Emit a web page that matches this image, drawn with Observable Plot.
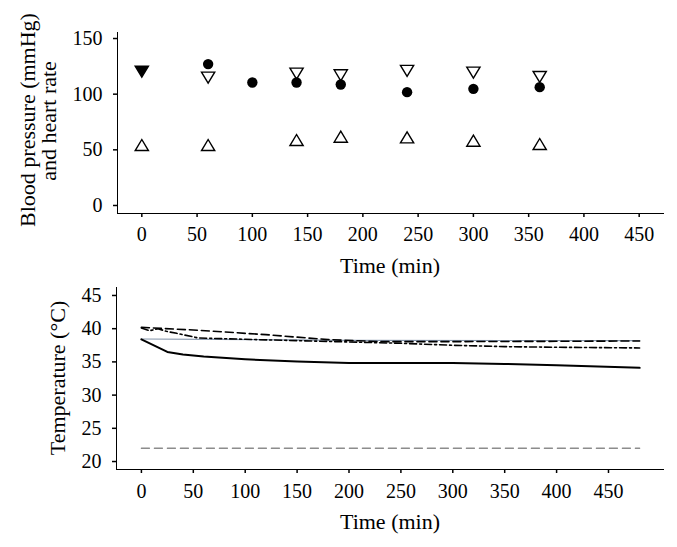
<!DOCTYPE html>
<html>
<head>
<meta charset="utf-8">
<script src="https://cdn.jsdelivr.net/npm/d3@7"></script>
<script src="https://cdn.jsdelivr.net/npm/@observablehq/plot@0.6"></script>
<style>
  body { margin: 0; background: #fff; }
  #wrap { position: relative; width: 677px; height: 547px; background: #fff; }
  #wrap svg { position: absolute; left: 0; }
  #wrap svg [aria-label$="tick"], #wrap svg [aria-label$="rule"] { stroke-width: 1.5; }
</style>
</head>
<body>
<div id="wrap"></div>
<script>
// ---------- Top panel data: blood pressure and heart rate ----------
const bpTimes = [0, 60, 100, 140, 180, 240, 300, 360];
const heartRate = [null, 127, 110.5, 110.5, 108.7, 101.8, 104.8, 106.3];          // filled circles
const systolicTimes = [0, 60, 140, 180, 240, 300, 360];
const systolic = [120.7, 115.3, 118.9, 117.4, 121.3, 119.8, 115.9];              // open down-triangles
const systolicFilled = [true, false, false, false, false, false, false];         // first marker drawn filled
const diastolicTimes = [0, 60, 140, 180, 240, 300, 360];
const diastolic = [53.9, 53.9, 58.4, 61.4, 60.8, 57.8, 54.8];                     // open up-triangles
const topXTicks = [0, 50, 100, 150, 200, 250, 300, 350, 400, 450];
const topYTicks = [0, 50, 100, 150];

// ---------- Bottom panel data: temperatures ----------
const solidTimes = [0, 25, 40, 60, 100, 150, 200, 250, 300, 350, 400, 480];
const solidTemp = [38.4, 36.5, 36.1, 35.8, 35.4, 35.05, 34.85, 34.85, 34.85, 34.7, 34.5, 34.1];
const greyTimes = [0, 200, 480];
const greyTemp = [38.45, 38.25, 38.2];
const dashedTimes = [0, 50, 120, 180, 230, 300, 400, 480];
const dashedTemp = [40.2, 39.8, 39.1, 38.35, 38.05, 38.05, 38.1, 38.15];
const dashDotTimes = [0, 8, 16, 24, 34, 55, 100, 150, 200, 250, 300, 350, 400, 480];
const dashDotTemp = [40.1, 39.7, 40.0, 39.6, 39.3, 38.6, 38.4, 38.2, 38.0, 37.8, 37.5, 37.3, 37.2, 37.1];
const ambientTimes = [0, 480];
const ambientTemp = [22, 22];
const botXTicks = [0, 50, 100, 150, 200, 250, 300, 350, 400, 450];
const botYTicks = [20, 25, 30, 35, 40, 45];

const FONT = "'Liberation Serif', 'DejaVu Serif', serif";

const zip = (ts, vs) => ts.map((t, i) => ({t, v: vs[i], i})).filter(d => d.v != null);

// custom triangle symbols
const triUp = {draw(ctx, size) {
  const r = Math.sqrt(size / Math.PI);
  ctx.moveTo(0, -r * 0.95); ctx.lineTo(r * 1.05, r * 0.8); ctx.lineTo(-r * 1.05, r * 0.8); ctx.closePath();
}};
const triDown = {draw(ctx, size) {
  const r = Math.sqrt(size / Math.PI);
  ctx.moveTo(0, r * 0.95); ctx.lineTo(r * 1.05, -r * 0.8); ctx.lineTo(-r * 1.05, -r * 0.8); ctx.closePath();
}};

const wrap = document.getElementById("wrap");

// ---------- Top plot ----------
const hr = zip(bpTimes, heartRate);
const sys = zip(systolicTimes, systolic).map(d => ({...d, filled: systolicFilled[d.i]}));
const dia = zip(diastolicTimes, diastolic);

const topPlot = Plot.plot({
  width: 677, height: 280,
  marginLeft: 117, marginRight: 14, marginTop: 32, marginBottom: 67,
  style: {fontFamily: FONT, fontSize: "20px", color: "#000", background: "transparent"},
  x: {domain: [-22, 472], ticks: topXTicks, tickSize: 4, tickPadding: 9, line: true, label: null},
  y: {domain: [-7.2, 155.4], ticks: topYTicks, tickSize: 4, tickPadding: 11, line: true, label: null},
  marks: [
    Plot.dot(dia, {x: "t", y: "v", symbol: triUp, r: 6.3, stroke: "#000", fill: "#fff", strokeWidth: 1.4}),
    Plot.dot(sys, {x: "t", y: "v", symbol: triDown, r: 6.3, stroke: "#000", fill: d => d.filled ? "#000" : "#fff", strokeWidth: 1.4}),
    Plot.dot(hr, {x: "t", y: "v", r: 5.2, fill: "#000", stroke: null})
  ]
});
topPlot.style.top = "0px";
wrap.appendChild(topPlot);

// ---------- Bottom plot ----------
const bottomPlot = Plot.plot({
  width: 677, height: 267,
  marginLeft: 116, marginRight: 14, marginTop: 7, marginBottom: 78,
  style: {fontFamily: FONT, fontSize: "20px", color: "#000", background: "transparent"},
  x: {domain: [-24, 503], ticks: botXTicks, tickSize: 4, tickPadding: 10, line: true, label: null},
  y: {domain: [18.8, 46.2], ticks: botYTicks, tickSize: 4, tickPadding: 11, line: true, label: null},
  marks: [
    Plot.line(zip(ambientTimes, ambientTemp), {x: "t", y: "v", stroke: "#8c8c8c", strokeWidth: 1.4, strokeDasharray: "8,5"}),
    Plot.line(zip(greyTimes, greyTemp), {x: "t", y: "v", stroke: "#8495ab", strokeWidth: 1.2}),
    Plot.line(zip(dashDotTimes, dashDotTemp), {x: "t", y: "v", stroke: "#000", strokeWidth: 1.6, strokeDasharray: "7,3,2,3"}),
    Plot.line(zip(dashedTimes, dashedTemp), {x: "t", y: "v", stroke: "#000", strokeWidth: 1.6, strokeDasharray: "8,4"}),
    Plot.line(zip(solidTimes, solidTemp), {x: "t", y: "v", stroke: "#000", strokeWidth: 2})
  ]
});
bottomPlot.style.top = "280px";
wrap.appendChild(bottomPlot);

// ---------- Axis titles ----------
function addText(svg, txt, x, y, rotate) {
  d3.select(svg).append("text")
    .attr("transform", `translate(${x},${y})` + (rotate ? " rotate(-90)" : ""))
    .attr("text-anchor", "middle")
    .attr("font-family", FONT)
    .attr("font-size", "22px")
    .attr("fill", "#000")
    .text(txt);
}
addText(topPlot, "Blood pressure (mmHg)", 35, 120, true);
addText(topPlot, "and heart rate", 56, 121, true);
addText(topPlot, "Time (min)", 390, 273, false);
addText(bottomPlot, "Temperature (°C)", 65, 98, true);
addText(bottomPlot, "Time (min)", 390, 249, false);
</script>
</body>
</html>
